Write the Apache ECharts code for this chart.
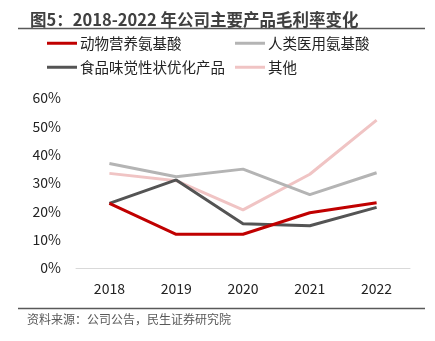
<!DOCTYPE html>
<html>
<head>
<meta charset="utf-8">
<script src="https://cdn.jsdelivr.net/npm/echarts@6/dist/echarts.min.js"></script>
<style>
  html, body { margin: 0; padding: 0; background: #fff; }
  #chart { width: 435px; height: 341px; }
</style>
</head>
<body>
<div id="chart"></div>
<script>
// Gross margin by product line, 2018-2022 (%)
const years = ['2018', '2019', '2020', '2021', '2022'];
const animalNutrition = [22.8, 11.9, 11.9, 19.5, 23.0];
const medicalAmino = [36.9, 32.2, 34.9, 25.9, 33.6];
const foodTaste = [22.8, 31.1, 15.6, 14.9, 21.4];
const others = [33.4, 30.8, 20.5, 33.1, 52.2];

const seriesNames = ['动物营养氨基酸', '人类医用氨基酸', '食品味觉性状优化产品', '其他'];
const seriesColors = ['#C00000', '#B4B4B4', '#545454', '#F0C4C4'];
const seriesValues = [animalNutrition, medicalAmino, foodTaste, others];

const font = '"Noto Sans CJK SC", "Noto Sans", sans-serif';
const chart = echarts.init(document.getElementById('chart'));

// one legend per entry so the two columns line up
const legendSlots = [[42, 31], [230, 31], [42, 55], [230, 55]];
const legends = seriesNames.map((name, i) => ({
  left: legendSlots[i][0],
  top: legendSlots[i][1],
  data: [name],
  itemWidth: 30,
  itemHeight: 3,
  itemGap: 0,
  icon: 'rect',
  textStyle: { fontFamily: font, fontSize: 14.5, color: '#222', padding: [0, 0, 0, -2] }
}));

chart.setOption({
  animation: false,
  color: seriesColors,
  title: {
    text: '图5：2018-2022 年公司主要产品毛利率变化',
    left: 25,
    top: 6,
    textStyle: { fontFamily: font, fontSize: 16.5, fontWeight: 'bold', color: '#404040' }
  },
  legend: legends,
  grid: { left: 76, right: 25, top: 98, bottom: 73 },
  xAxis: {
    type: 'category',
    data: years,
    boundaryGap: true,
    axisLine: { lineStyle: { color: '#D9D9D9', width: 1 } },
    axisTick: { show: false },
    axisLabel: { fontFamily: font, fontSize: 14, color: '#222', margin: 14 }
  },
  yAxis: {
    type: 'value',
    min: 0,
    max: 60,
    interval: 10,
    splitLine: { show: false },
    axisLine: { show: false },
    axisTick: { show: false },
    axisLabel: { fontFamily: font, fontSize: 14, color: '#222', margin: 15, formatter: '{value}%' }
  },
  series: seriesNames.map((name, i) => ({
    name: name,
    type: 'line',
    data: seriesValues[i],
    symbol: 'none',
    lineStyle: { width: 3, color: seriesColors[i] },
    itemStyle: { color: seriesColors[i] },
    z: 10 - i
  })),
  graphic: [
    { type: 'line', shape: { x1: 18, y1: 28.5, x2: 425, y2: 28.5 }, style: { stroke: '#595959', lineWidth: 1.5 } },
    { type: 'line', shape: { x1: 18, y1: 308.5, x2: 425, y2: 308.5 }, style: { stroke: '#595959', lineWidth: 1.5 } },
    { type: 'text', left: 27, top: 313, style: { text: '资料来源：公司公告，民生证券研究院', font: '12px ' + font, fill: '#595959' } }
  ]
});
</script>
</body>
</html>
